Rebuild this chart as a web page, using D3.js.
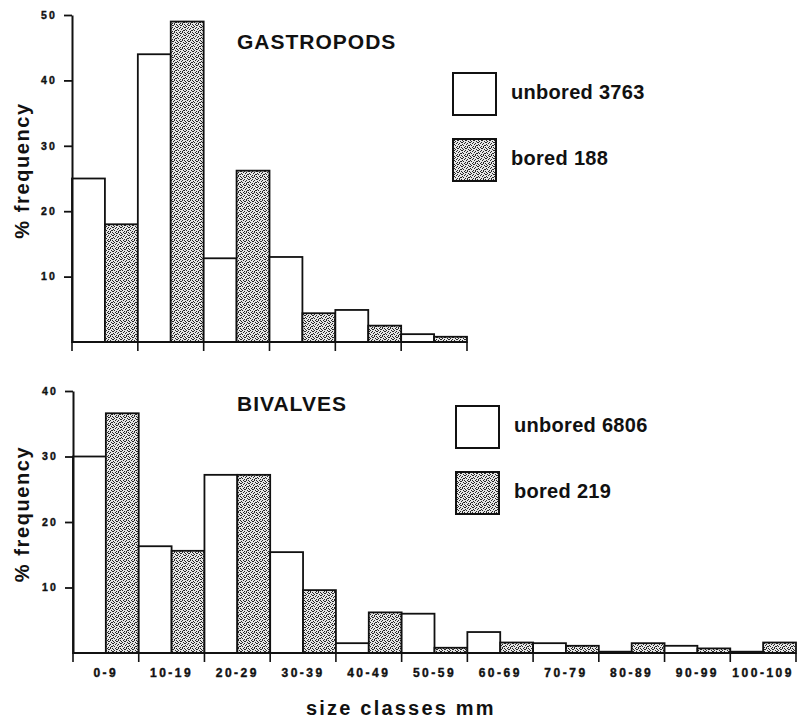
<!DOCTYPE html>
<html>
<head>
<meta charset="utf-8">
<script src="https://cdn.jsdelivr.net/npm/d3@7"></script>
<style>
  body { margin: 0; background: #fff; }
  svg text { font-family: "Liberation Sans", Arial, sans-serif; font-weight: bold; fill: #111; }
</style>
</head>
<body>
<div id="chart"></div>
<script>

// size classes (mm)
var classes = ["0-9", "10-19", "20-29", "30-39", "40-49", "50-59", "60-69", "70-79", "80-89", "90-99", "100-109"];

// % frequency, gastropods (only first 6 classes)
var gastroUnbored = [25, 44, 12.8, 13, 4.9, 1.2];
var gastroBored   = [18, 49, 26.2, 4.4, 2.5, 0.8];

// % frequency, bivalves
var bivUnbored = [30, 16.3, 27.2, 15.4, 1.5, 6.0, 3.2, 1.5, 0.2, 1.1, 0.2];
var bivBored   = [36.6, 15.6, 27.2, 9.6, 6.2, 0.8, 1.6, 1.1, 1.5, 0.7, 1.6];

var gastroTicks = [10, 20, 30, 40, 50];
var bivTicks = [10, 20, 30, 40];

var width = 798, height = 720;

var svg = d3.select("#chart")
    .append("svg")
    .attr("width", width)
    .attr("height", height);

// stipple fill for the bored bars
var defs = svg.append("defs");
var pat = defs.append("pattern")
    .attr("id", "stipple")
    .attr("patternUnits", "userSpaceOnUse")
    .attr("width", 8)
    .attr("height", 8);
pat.append("rect").attr("width", 8).attr("height", 8).attr("fill", "#e6e6e6");
var dots = [[0,0],[3,0],[6,0],[1,1],[5,1],[2,2],[7,2],[4,3],[0,3],[6,4],[3,4],[1,5],
            [5,5],[2,6],[7,6],[4,7],[0,6],[4,1],[6,7],[1,3]];
pat.selectAll("rect.d")
    .data(dots)
    .enter().append("rect")
    .attr("class", "d")
    .attr("x", function(d) { return d[0]; })
    .attr("y", function(d) { return d[1]; })
    .attr("width", 1)
    .attr("height", 1)
    .attr("fill", "#262626");

function panel(opt) {
  var cats = classes.slice(0, opt.unbored.length);

  var x = d3.scaleBand()
      .domain(cats)
      .range([opt.x0, opt.x1])
      .padding(0);

  var sub = d3.scaleBand()
      .domain(["unbored", "bored"])
      .range([0, x.bandwidth()])
      .padding(0);

  var y = d3.scaleLinear()
      .domain([0, opt.ymax])
      .range([opt.base, opt.top]);

  var g = svg.append("g");

  var rows = cats.map(function(c, i) {
    return [{cls: c, key: "unbored", v: opt.unbored[i]},
            {cls: c, key: "bored", v: opt.bored[i]}];
  });
  rows = [].concat.apply([], rows);

  g.selectAll("rect.bar")
    .data(rows)
    .enter().append("rect")
    .attr("class", "bar")
    .attr("x", function(d) { return x(d.cls) + sub(d.key); })
    .attr("y", function(d) { return y(d.v); })
    .attr("width", sub.bandwidth())
    .attr("height", function(d) { return y(0) - y(d.v); })
    .attr("fill", function(d) { return d.key == "bored" ? "url(#stipple)" : "#fff"; })
    .attr("stroke", "#111")
    .attr("stroke-width", 1.8);

  // baseline + class boundary ticks
  var bounds = cats.map(function(c) { return x(c); }).concat([x.range()[1]]);
  g.append("line")
    .attr("x1", opt.x0).attr("x2", opt.x1)
    .attr("y1", y(0)).attr("y2", y(0))
    .attr("stroke", "#111").attr("stroke-width", 2);
  g.selectAll("line.btick")
    .data(bounds)
    .enter().append("line")
    .attr("class", "btick")
    .attr("x1", function(d) { return d; })
    .attr("x2", function(d) { return d; })
    .attr("y1", y(0))
    .attr("y2", y(0) + 9)
    .attr("stroke", "#111").attr("stroke-width", 1.6);

  if (opt.labels) {
    var xa = g.append("g")
      .attr("transform", "translate(0," + y(0) + ")")
      .call(d3.axisBottom(x).tickSize(0).tickPadding(15));
    xa.select(".domain").remove();
    xa.selectAll("text")
      .style("font-size", "12px")
      .style("letter-spacing", "2.5px")
      .style("font-family", "'Liberation Sans', Arial, sans-serif")
      .style("font-weight", "bold")
      .attr("fill", "#111")
      .attr("stroke", "#111")
      .attr("stroke-width", 0.4);
  }

  // y axis
  var ya = g.append("g")
    .attr("transform", "translate(" + opt.x0 + ",0)")
    .call(d3.axisLeft(y).tickValues(opt.ticks).tickSize(8).tickSizeOuter(0).tickPadding(7));
  ya.select(".domain").attr("stroke", "#111").attr("stroke-width", 2);
  ya.selectAll(".tick line").attr("stroke", "#111").attr("stroke-width", 1.8);
  ya.selectAll("text")
    .style("font-size", "10.5px")
    .style("letter-spacing", "2.2px")
    .style("font-family", "'Liberation Sans', Arial, sans-serif")
    .style("font-weight", "bold")
    .attr("fill", "#111")
    .attr("stroke", "#111")
    .attr("stroke-width", 0.4);

  g.append("text")
    .attr("transform", "translate(" + 29 + "," + ((opt.top + opt.base) / 2 - 8) + ") rotate(-90)")
    .attr("text-anchor", "middle")
    .style("font-size", "20px")
    .style("letter-spacing", "1.6px")
    .text("% frequency");

  g.append("text")
    .attr("x", 237)
    .attr("y", opt.titleY)
    .style("font-size", "21px")
    .style("letter-spacing", "1px")
    .text(opt.title);

  // legend
  var leg = [{key: "unbored", label: "unbored " + opt.nUnbored},
             {key: "bored", label: "bored " + opt.nBored}];
  var lg = g.selectAll("g.leg")
    .data(leg)
    .enter().append("g")
    .attr("class", "leg")
    .attr("transform", function(d, i) { return "translate(" + opt.legX + "," + (opt.legY + i * 66) + ")"; });
  lg.append("rect")
    .attr("width", 43)
    .attr("height", 42)
    .attr("fill", function(d) { return d.key == "bored" ? "url(#stipple)" : "#fff"; })
    .attr("stroke", "#111")
    .attr("stroke-width", 2);
  lg.append("text")
    .attr("x", 58)
    .attr("y", 26)
    .style("font-size", "20px")
    .style("letter-spacing", "0.3px")
    .text(function(d) { return d.label; });
}

panel({
  unbored: gastroUnbored, bored: gastroBored,
  x0: 72, x1: 467, base: 342, top: 15, ymax: 50,
  ticks: gastroTicks, labels: false,
  title: "GASTROPODS", titleY: 49,
  nUnbored: 3763, nBored: 188, legX: 453, legY: 73
});

panel({
  unbored: bivUnbored, bored: bivBored,
  x0: 73, x1: 796, base: 653, top: 391, ymax: 40,
  ticks: bivTicks, labels: true,
  title: "BIVALVES", titleY: 411,
  nUnbored: 6806, nBored: 219, legX: 456, legY: 406
});

svg.append("text")
  .attr("x", 306)
  .attr("y", 715)
  .style("font-size", "20px")
  .style("letter-spacing", "2.2px")
  .text("size classes mm");

</script>
</body>
</html>
